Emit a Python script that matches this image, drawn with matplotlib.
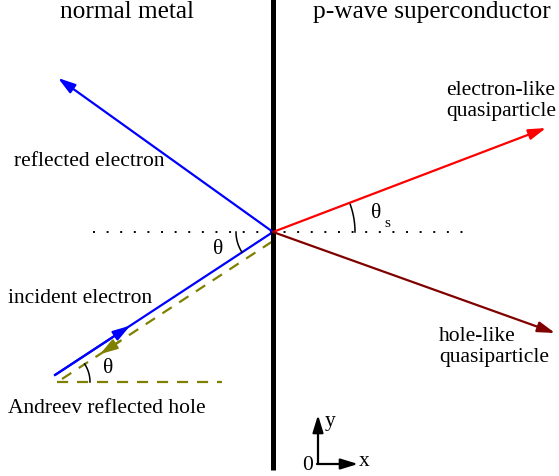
import numpy as np
import matplotlib
matplotlib.use("Agg")
import matplotlib.pyplot as plt

W, H = 559, 477
origin = (273, 233)

# ray endpoints (pixel coordinates of the diagram)
reflected_end = (58, 79)
incident_start = (55, 376)
hole_start = (62, 380)
hole_end = (273, 242)
electron_like_end = (546, 129)
hole_like_end = (555, 334)

titles = {
    "normal metal": (127, 1),
    "p-wave superconductor": (432, 1),
}
labels = {
    "reflected electron": (14, 162, "left"),
    "incident electron": (8, 299, "left"),
    "Andreev reflected hole": (8, 409, "left"),
    "electron-like\nquasiparticle": (446, 101, "left"),
    "hole-like\nquasiparticle": (439, 347, "left"),
}

plt.rcParams['font.family'] = ['Liberation Serif', 'DejaVu Serif']
fig = plt.figure(figsize=(W / 100, H / 100), dpi=100)
ax = fig.add_axes([0, 0, 1, 1])
ax.set_xlim(0, W)
ax.set_ylim(H, 0)
ax.axis('off')

fs = 15.5

# interface
ax.plot([273, 273], [0, 471], color='black', lw=3.6, solid_capstyle='butt', zorder=3)
# dotted normal
ax.plot([93, 466], [233, 233], color='black', lw=1.4, ls=(0, (1, 6)))

def arrow(p0, p1, color, ms=16):
    ax.annotate('', xy=p1, xytext=p0,
                arrowprops=dict(arrowstyle='-|>,head_length=0.65,head_width=0.2', color=color, lw=1.6,
                                mutation_scale=ms, shrinkA=0, shrinkB=0))

# reflected electron
arrow(origin, reflected_end, 'blue')
# incident electron
ax.plot([incident_start[0], origin[0]], [incident_start[1], origin[1]], color='blue', lw=1.6)
mx = incident_start[0] + 0.345 * (origin[0] - incident_start[0])
my = incident_start[1] + 0.345 * (origin[1] - incident_start[1])
arrow(incident_start, (mx, my), 'blue')
# Andreev hole (dashed)
olive = '#808000'
ax.plot([hole_start[0], hole_end[0]], [hole_start[1], hole_end[1]], color=olive, lw=1.6, ls=(0, (5, 4)))
hx = hole_end[0] + 0.82 * (hole_start[0] - hole_end[0])
hy = hole_end[1] + 0.82 * (hole_start[1] - hole_end[1])
arrow((hx + 20, hy - 13), (hx, hy), olive)
ax.plot([57, 222], [383, 383], color=olive, lw=1.6, ls=(0, (5, 4)))
# superconductor quasiparticles
arrow(origin, electron_like_end, 'red')
arrow(origin, hole_like_end, '#800000')

# angle arcs
def arc(center, r, a0, a1):
    t = np.linspace(a0, a1, 40)
    ax.plot(center[0] + r * np.cos(t), center[1] + r * np.sin(t), color='black', lw=1.1)

a_inc = np.arctan2(incident_start[1] - origin[1], incident_start[0] - origin[0])
arc(origin, 37, np.pi, a_inc)
a_h = np.arctan2(hole_end[1] - hole_start[1], hole_end[0] - hole_start[0])
arc((57, 383), 33, a_h, 0)
a_el = np.arctan2(electron_like_end[1] - origin[1], electron_like_end[0] - origin[0])
arc(origin, 82, a_el, 0)

ax.text(218, 250, 'θ', fontsize=fs, ha='center', va='center')
ax.text(108, 369, 'θ', fontsize=fs, ha='center', va='center')
ax.text(376, 214, 'θ', fontsize=fs, ha='center', va='center')
ax.text(384, 224, 's', fontsize=11, ha='left', va='center')

for txt, (x, y) in titles.items():
    ax.text(x, y, txt, fontsize=18.3, ha='center', va='top')
for txt, (x, y, ha) in labels.items():
    ax.text(x, y, txt, fontsize=fs, ha=ha, va='center', linespacing=1.2)

# coordinate glyph
arrow((318, 465), (318, 416), 'black')
arrow((317, 465), (358, 465), 'black')
ax.text(330, 422, 'y', fontsize=fs, ha='center', va='center')
ax.text(364, 462, 'x', fontsize=fs, ha='center', va='center')
ax.text(308, 466, '0', fontsize=fs, ha='center', va='center')

fig.savefig('out.png', dpi=100)
